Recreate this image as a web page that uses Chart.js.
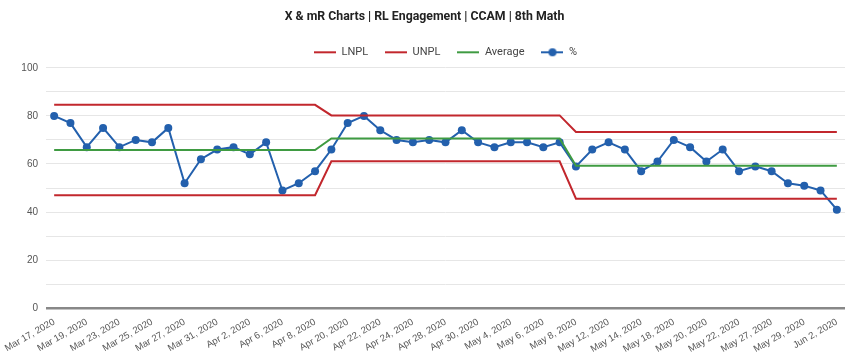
<!DOCTYPE html>
<html><head><meta charset="utf-8">
<script src="https://cdn.jsdelivr.net/npm/chart.js@4"></script>
<style>html,body{margin:0;padding:0;background:#fff}#wrap{width:854px;height:359px}</style>
</head><body><div id="wrap"><canvas id="c" width="854" height="359"></canvas></div>
<script>
const categories = ["Mar 17, 2020","Mar 18, 2020","Mar 19, 2020","Mar 20, 2020","Mar 23, 2020","Mar 24, 2020","Mar 25, 2020","Mar 26, 2020","Mar 27, 2020","Mar 30, 2020","Mar 31, 2020","Apr 1, 2020","Apr 2, 2020","Apr 3, 2020","Apr 6, 2020","Apr 7, 2020","Apr 8, 2020","Apr 9, 2020","Apr 20, 2020","Apr 21, 2020","Apr 22, 2020","Apr 23, 2020","Apr 24, 2020","Apr 27, 2020","Apr 28, 2020","Apr 29, 2020","Apr 30, 2020","May 1, 2020","May 4, 2020","May 5, 2020","May 6, 2020","May 7, 2020","May 8, 2020","May 11, 2020","May 12, 2020","May 13, 2020","May 14, 2020","May 15, 2020","May 18, 2020","May 19, 2020","May 20, 2020","May 21, 2020","May 22, 2020","May 26, 2020","May 27, 2020","May 28, 2020","May 29, 2020","Jun 1, 2020","Jun 2, 2020"];
const pct = [80,77,67,75,67,70,69,75,52,62,66,67,64,69,49,52,57,66,77,80,74,70,69,70,69,74,69,67,69,69,67,69,59,66,69,66,57,61,70,67,61,66,57,59,57,52,51,49,41];
const lnpl = [47.0,47.0,47.0,47.0,47.0,47.0,47.0,47.0,47.0,47.0,47.0,47.0,47.0,47.0,47.0,47.0,47.0,61.1,61.1,61.1,61.1,61.1,61.1,61.1,61.1,61.1,61.1,61.1,61.1,61.1,61.1,61.1,45.6,45.6,45.6,45.6,45.6,45.6,45.6,45.6,45.6,45.6,45.6,45.6,45.6,45.6,45.6,45.6,45.6];
const unpl = [84.6,84.6,84.6,84.6,84.6,84.6,84.6,84.6,84.6,84.6,84.6,84.6,84.6,84.6,84.6,84.6,84.6,80.2,80.2,80.2,80.2,80.2,80.2,80.2,80.2,80.2,80.2,80.2,80.2,80.2,80.2,80.2,73.3,73.3,73.3,73.3,73.3,73.3,73.3,73.3,73.3,73.3,73.3,73.3,73.3,73.3,73.3,73.3,73.3];
const avg = [65.8,65.8,65.8,65.8,65.8,65.8,65.8,65.8,65.8,65.8,65.8,65.8,65.8,65.8,65.8,65.8,65.8,70.6,70.6,70.6,70.6,70.6,70.6,70.6,70.6,70.6,70.6,70.6,70.6,70.6,70.6,70.6,59.3,59.3,59.3,59.3,59.3,59.3,59.3,59.3,59.3,59.3,59.3,59.3,59.3,59.3,59.3,59.3,59.3];
const yTicks = [0,20,40,60,80,100];

const RED = '#c2272d', GREEN = '#3f9b42', BLUE = '#2360ad';

function legendIcon(color, dot){
  const c = document.createElement('canvas');
  c.width = 22; c.height = 10;
  const g = c.getContext('2d');
  g.strokeStyle = color; g.lineWidth = 2;
  g.beginPath(); g.moveTo(0,5); g.lineTo(22,5); g.stroke();
  if (dot){ g.fillStyle = color; g.beginPath(); g.arc(11,5,4,0,Math.PI*2); g.fill(); }
  return c;
}
const icons = [legendIcon(RED,false), legendIcon(RED,false), legendIcon(GREEN,false), legendIcon(BLUE,true)];

const centerLegendOnArea = {
  id: 'centerLegendOnArea',
  afterLayout(chart){
    const lg = chart.legend, ca = chart.chartArea;
    if (!lg) return;
    const shift = (ca.left + ca.right) / 2 - (lg.left + lg.right) / 2;
    lg.left += shift; lg.right += shift;
  }
};

new Chart(document.getElementById('c'), {
  type: 'line',
  data: {
    labels: categories,
    datasets: [
      {label:'LNPL', data:lnpl, borderColor:RED, backgroundColor:RED, borderWidth:2, pointRadius:0, pointHoverRadius:0, tension:0},
      {label:'UNPL', data:unpl, borderColor:RED, backgroundColor:RED, borderWidth:2, pointRadius:0, pointHoverRadius:0, tension:0},
      {label:'Average', data:avg, borderColor:GREEN, backgroundColor:GREEN, borderWidth:2, pointRadius:0, pointHoverRadius:0, tension:0},
      {label:'%', data:pct, borderColor:BLUE, backgroundColor:BLUE, borderWidth:2, pointRadius:4, pointBorderWidth:0, tension:0}
    ]
  },
  plugins: [centerLegendOnArea],
  options: {
    responsive: false,
    animation: false,
    layout: {padding: {left: 4, right: 9, top: 0, bottom: 4}},
    plugins: {
      title: {display:true, text:'X & mR Charts | RL Engagement | CCAM | 8th Math', color:'#222',
        font:{family:"Roboto, sans-serif", size:12.3, weight:'bold'}, padding:{top:10, bottom:5}},
      legend: {display:true, position:'top',
        labels:{color:'#444', font:{family:"Roboto, sans-serif", size:11}, usePointStyle:true, boxHeight:10, pointStyleWidth:22, padding:17,
          generateLabels(chart){
            return chart.data.datasets.map((d,i)=>({text:d.label, pointStyle:icons[i], fillStyle:d.borderColor, strokeStyle:d.borderColor, fontColor:'#444', lineWidth:0, hidden:false, datasetIndex:i}));
          }}},
      tooltip: {enabled:false}
    },
    scales: {
      x: {offset:true, grid:{display:false}, border:{display:false},
        ticks:{autoSkip:false, maxRotation:30, minRotation:30, color:'#555', font:{family:"'Liberation Sans', Arial, sans-serif", size:9.5}, padding:0,
          callback(v,i){ return i % 2 === 0 ? categories[i] : ''; }}},
      y: {min:0, max:100, border:{display:false},
        afterFit(s){ s.width = 42; },
        grid:{color(ctx){ return ctx.tick.value === 0 ? '#888' : '#e6e6e6'; }, lineWidth(ctx){ return ctx.tick.value === 0 ? 2.5 : 1; }, drawTicks:false},
        ticks:{stepSize:10, color:'#555', font:{family:"'Liberation Sans', Arial, sans-serif", size:10}, padding:8,
          callback(v){ return yTicks.includes(v) ? String(v) : ''; }}}
    }
  }
});
</script></body></html>
